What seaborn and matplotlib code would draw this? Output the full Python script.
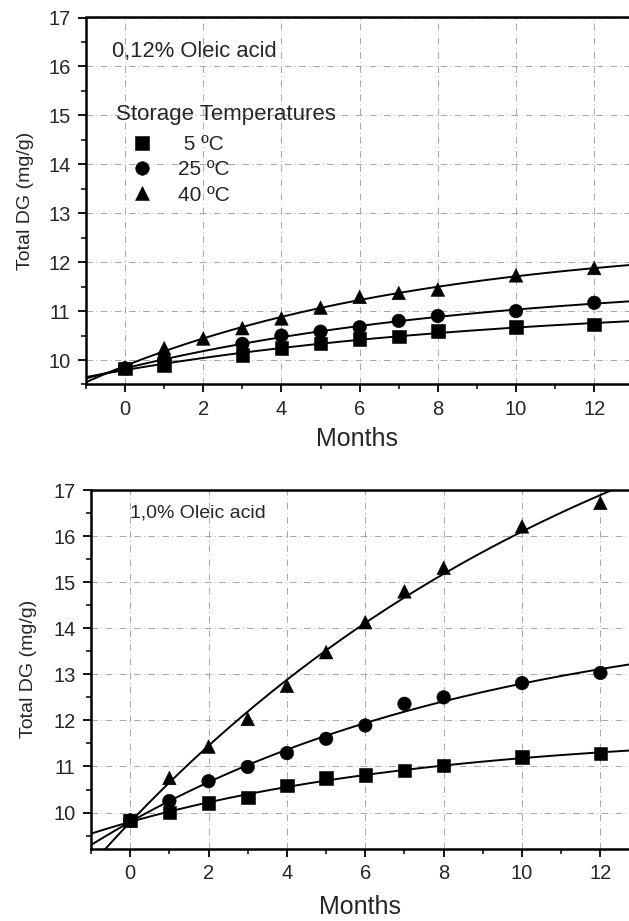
import numpy as np
import pandas as pd
import matplotlib
matplotlib.use("Agg")
import matplotlib.pyplot as plt
from matplotlib.ticker import MultipleLocator
import seaborn as sns

# ---------------- data ----------------
temps = ["5 ºC", "25 ºC", "40 ºC"]

top_months_5 = [0, 1, 3, 4, 5, 6, 7, 8, 10, 12]
top_dg_5 = [9.83, 9.90, 10.10, 10.25, 10.34, 10.43, 10.48, 10.59, 10.67, 10.73]
top_months_25 = [0, 1, 3, 4, 5, 6, 7, 8, 10, 12]
top_dg_25 = [9.83, 10.01, 10.33, 10.50, 10.58, 10.67, 10.80, 10.90, 11.00, 11.17]
top_months_40 = [0, 1, 2, 3, 4, 5, 6, 7, 8, 10, 12]
top_dg_40 = [9.85, 10.24, 10.44, 10.65, 10.85, 11.07, 11.29, 11.37, 11.44, 11.73, 11.88]

bot_months = [0, 1, 2, 3, 4, 5, 6, 7, 8, 10, 12]
bot_dg_5 = [9.83, 10.00, 10.21, 10.33, 10.59, 10.75, 10.81, 10.91, 11.02, 11.21, 11.28]
bot_dg_25 = [9.83, 10.25, 10.68, 10.99, 11.29, 11.60, 11.89, 12.36, 12.50, 12.81, 13.03]
bot_dg_40 = [9.83, 10.75, 11.43, 12.03, 12.75, 13.48, 14.13, 14.80, 15.31, 16.21, 16.72]

x_ticks = [0, 2, 4, 6, 8, 10, 12]
y_ticks = [10, 11, 12, 13, 14, 15, 16, 17]

top_title = "0,12% Oleic acid"
bot_title = "1,0% Oleic acid"
legend_title = "Storage Temperatures"
x_label = "Months"
y_label = "Total DG (mg/g)"

# ---------------- helpers ----------------
W, H = 629, 921


def fx(px):
    return px / W


def fy(py):
    return 1 - py / H


def fit_exp(x, y):
    """least-squares fit of y = a + b*(1 - exp(-k x))"""
    x = np.asarray(x, float)
    y = np.asarray(y, float)
    best = None
    for k in np.linspace(0.002, 0.8, 800):
        B = np.column_stack([np.ones_like(x), 1 - np.exp(-k * x)])
        coef = np.linalg.lstsq(B, y, rcond=None)[0]
        r = np.sum((B @ coef - y) ** 2)
        if best is None or r < best[0]:
            best = (r, k, coef)
    _, k, (a, b) = best
    return lambda t: a + b * (1 - np.exp(-k * t))


sns.set_theme(style="ticks")
plt.rcParams["font.family"] = ["Liberation Sans", "DejaVu Sans"]
plt.rcParams["axes.linewidth"] = 1.8

fig = plt.figure(figsize=(W / 100, H / 100), dpi=100)

ax1 = fig.add_axes([fx(86), fy(384.5), fx(629) - fx(86), (384.5 - 17.5) / H])
ax2 = fig.add_axes([fx(91), fy(848.5), fx(629) - fx(91), (848.5 - 490) / H])

markers = {"5 ºC": "s", "25 ºC": "o", "40 ºC": "^"}

panels = [
    (ax1, (-1, 12.89), (9.5, 17),
     [(top_months_5, top_dg_5), (top_months_25, top_dg_25), (top_months_40, top_dg_40)], True),
    (ax2, (-1, 12.73), (9.22, 17),
     [(bot_months, bot_dg_5), (bot_months, bot_dg_25), (bot_months, bot_dg_40)], False),
]

for ax, xl, yl, series, show_leg in panels:
    ax.set_xlim(*xl)
    ax.set_ylim(*yl)
    rows = []
    for t, (m, v) in zip(temps, series):
        for mi, vi in zip(m, v):
            rows.append({"Months": mi, "DG": vi, "Temperature": t})
        f = fit_exp(m, v)
        xx = np.linspace(xl[0], xl[1], 300)
        sns.lineplot(x=xx, y=f(xx), ax=ax, color="black", lw=1.4, zorder=2)
    df = pd.DataFrame(rows)
    sns.scatterplot(data=df, x="Months", y="DG", style="Temperature",
                    markers=markers, style_order=temps, color="black",
                    s=95, edgecolor="black", linewidth=0.4, ax=ax,
                    legend=show_leg, zorder=3)
    ax.set_xlim(*xl)
    ax.set_ylim(*yl)
    ax.set_xticks(x_ticks)
    ax.set_yticks(y_ticks)
    ax.xaxis.set_minor_locator(MultipleLocator(1))
    ax.yaxis.set_minor_locator(MultipleLocator(0.5))
    ax.tick_params(which="major", direction="out", length=6, width=1.3,
                   labelsize=14.5, pad=5, color="black")
    ax.tick_params(which="minor", direction="out", length=3.5, width=1.1,
                   color="black")
    ax.grid(True, which="major", color="0.6", lw=0.6,
            linestyle=(0, (8, 4, 1, 4)))
    ax.spines["right"].set_visible(False)
    for s in ["left", "bottom", "top"]:
        ax.spines[s].set_color("black")
    ax.set_ylabel(y_label, fontsize=14)
    ax.set_xlabel(x_label, fontsize=18)

    if show_leg:
        handles, labels = ax.get_legend_handles_labels()
        ax.get_legend().remove()
        labels = [(" " + l) if l == "5 ºC" else l for l in labels]
        ax.legend(handles, labels, loc="upper left",
                  bbox_to_anchor=(fx(132), fy(135)),
                  bbox_transform=fig.transFigure, frameon=False,
                  fontsize=15, handlelength=1.0, handletextpad=1.2,
                  labelspacing=0.3, borderpad=0, borderaxespad=0,
                  markerscale=1.0)

ax1.xaxis.labelpad = 6
ax2.xaxis.labelpad = 9
ax1.yaxis.labelpad = 10
ax2.yaxis.labelpad = 12

fig.text(fx(112), fy(52), top_title, ha="left", va="center", fontsize=15.8)
fig.text(fx(116), fy(114), legend_title, ha="left", va="center", fontsize=16)
fig.text(fx(130), fy(513), bot_title, ha="left", va="center", fontsize=14)

fig.savefig("out.png", dpi=100)
